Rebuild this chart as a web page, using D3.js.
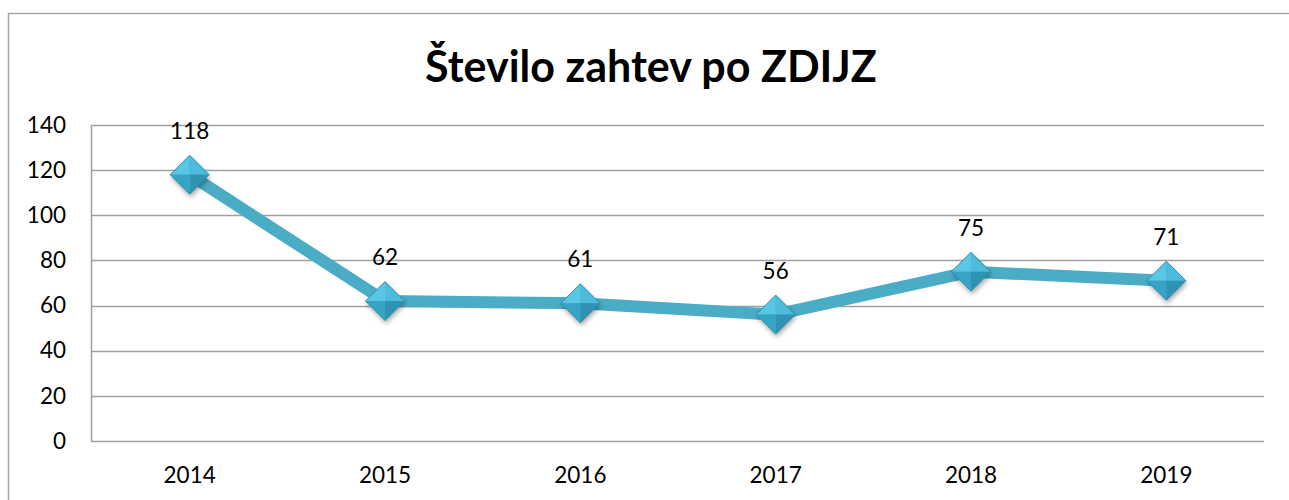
<!DOCTYPE html>
<html>
<head>
<meta charset="utf-8">
<script src="https://cdn.jsdelivr.net/npm/d3@7"></script>
<style>
  body { margin: 0; background: #fff; }
  svg { display: block; font-family: Lato, "Open Sans", sans-serif; }
</style>
</head>
<body>
<div id="chart"></div>
<script>
const years = ['2014', '2015', '2016', '2017', '2018', '2019'];
const counts = [118, 62, 61, 56, 75, 71];
const yTicks = [0, 20, 40, 60, 80, 100, 120, 140];
const title = 'Število zahtev po ZDIJZ';

const width = 1289, height = 500;
const plot = { left: 92, right: 1264, top: 125, bottom: 441 };

const svg = d3.select('#chart').append('svg')
    .attr('width', width)
    .attr('height', height);

const defs = svg.append('defs');
defs.append('filter')
    .attr('id', 'shadow')
    .attr('x', '-50%').attr('y', '-50%').attr('width', '200%').attr('height', '200%')
    .append('feDropShadow')
    .attr('dx', 1).attr('dy', 3).attr('stdDeviation', 2.5)
    .attr('flood-color', '#000').attr('flood-opacity', 0.35);

// chart frame (right and bottom edges run off the page)
svg.append('path')
    .attr('d', `M8.5,${height + 5} V13.5 H${width + 5}`)
    .attr('fill', 'none')
    .attr('stroke', '#a6a6a6')
    .attr('stroke-width', 1.5);

svg.append('text')
    .attr('x', 651)
    .attr('y', 82)
    .attr('text-anchor', 'middle')
    .style('font-size', '43px')
    .style('font-weight', 'bold')
    .text(title);

const x = d3.scaleBand().domain(years).range([plot.left, plot.right]);
const y = d3.scaleLinear().domain([0, 140]).range([plot.bottom, plot.top]);

// gridlines
svg.append('g')
    .selectAll('line')
    .data(yTicks)
    .join('line')
    .attr('x1', plot.left - 1)
    .attr('x2', plot.right)
    .attr('y1', d => Math.round(y(d)) + 0.5)
    .attr('y2', d => Math.round(y(d)) + 0.5)
    .attr('stroke', '#a0a0a0')
    .attr('stroke-width', 1.5);

// left axis line
svg.append('line')
    .attr('x1', plot.left - 0.5).attr('x2', plot.left - 0.5)
    .attr('y1', plot.top).attr('y2', plot.bottom + 1)
    .attr('stroke', '#a0a0a0')
    .attr('stroke-width', 1.5);

const yAxis = svg.append('g')
    .attr('transform', `translate(${plot.left - 26},0)`)
    .call(d3.axisLeft(y).tickValues(yTicks).tickSize(0).tickPadding(0));
yAxis.select('.domain').remove();
yAxis.selectAll('text')
    .style('font-family', 'Lato, "Open Sans", sans-serif')
    .style('font-size', '22.5px')
    .attr('fill', '#000');

const xAxis = svg.append('g')
    .attr('transform', `translate(0,${plot.bottom + 42})`)
    .call(d3.axisBottom(x).tickSize(0).tickPadding(0));
xAxis.select('.domain').remove();
xAxis.selectAll('text')
    .style('font-family', 'Lato, "Open Sans", sans-serif')
    .style('font-size', '22.5px')
    .attr('fill', '#000')
    .attr('dy', '0');

const cx = d => x(d) + x.bandwidth() / 2;
const pts = years.map((yr, i) => ({ yr, v: counts[i] }));

svg.append('path')
    .datum(pts)
    .attr('d', d3.line().x(d => cx(d.yr)).y(d => y(d.v)))
    .attr('fill', 'none')
    .attr('stroke', '#4aacc5')
    .attr('stroke-width', 12)
    .attr('stroke-linejoin', 'round');

// diamond markers with bevelled facets
const r = 19.5;
const facets = [
    { d: `M0,0 L${-r},0 L0,${-r} Z`, fill: '#58c6e5' },
    { d: `M0,0 L0,${-r} L${r},0 Z`, fill: '#4dbbdc' },
    { d: `M0,0 L${r},0 L0,${r} Z`, fill: '#2f93b4' },
    { d: `M0,0 L0,${r} L${-r},0 Z`, fill: '#38a4c5' }
];
const markers = svg.append('g')
    .selectAll('g')
    .data(pts)
    .join('g')
    .attr('transform', d => `translate(${cx(d.yr)},${y(d.v)})`);
markers.append('path')
    .attr('d', `M${-r},0 L0,${-r} L${r},0 L0,${r} Z`)
    .attr('fill', '#3aa7c7')
    .attr('filter', 'url(#shadow)');
markers.selectAll('.facet')
    .data(facets)
    .join('path')
    .attr('class', 'facet')
    .attr('d', f => f.d)
    .attr('fill', f => f.fill);
markers.append('path')
    .attr('d', `M${-r},0 L0,${-r} L${r},0 L0,${r} Z`)
    .attr('fill', 'none')
    .attr('stroke', '#2a86a4')
    .attr('stroke-width', 0.8);

// data labels
svg.append('g')
    .selectAll('text')
    .data(pts)
    .join('text')
    .attr('x', d => cx(d.yr))
    .attr('y', d => y(d.v) - 36)
    .attr('text-anchor', 'middle')
    .style('font-size', '22.5px')
    .text(d => d.v);
</script>
</body>
</html>
